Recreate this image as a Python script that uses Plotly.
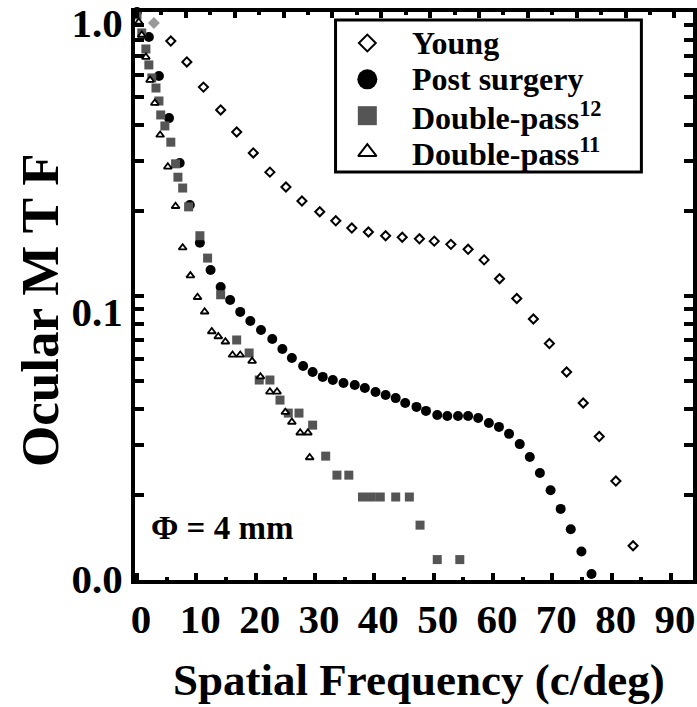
import plotly.graph_objects as go

FONT = "Liberation Serif"

# ---- data ----
young_x = [2.85, 5.7, 8.4, 11.2, 14.1, 16.8, 19.6, 22.4, 25.1, 27.8, 30.8, 33.5, 36.2, 39.0, 41.9,
           44.7, 47.6, 50.1, 52.9, 55.8, 58.5, 61.1, 64.0, 66.8, 69.5, 72.4, 75.2, 77.9, 80.7, 83.6]
young_y = [0.915, 0.790, 0.667, 0.544, 0.452, 0.378, 0.319, 0.273, 0.242, 0.216, 0.198, 0.184, 0.1735,
           0.168, 0.163, 0.161, 0.159, 0.156, 0.152, 0.146, 0.134, 0.115, 0.098, 0.083, 0.068, 0.054,
           0.042, 0.032, 0.0223, 0.0132]

post_x = [0.0, 2.0, 3.7, 5.4, 7.2, 8.9, 10.6, 12.4, 14.1, 15.7, 17.4, 19.1, 20.9, 22.8, 24.5, 26.1,
          28.0, 29.6, 31.3, 33.0, 34.8, 36.7, 38.4, 40.2, 41.9, 43.6, 45.2, 47.1, 48.7, 50.6, 52.3,
          54.1, 55.8, 57.5, 59.3, 61.0, 62.7, 64.5, 66.2, 67.9, 69.7, 71.4, 73.1, 74.9, 76.6]
post_y = [1.0, 0.817, 0.595, 0.423, 0.294, 0.209, 0.154, 0.1235, 0.1076, 0.0968, 0.0879, 0.0817,
          0.0759, 0.0706, 0.0651, 0.0605, 0.0567, 0.0540, 0.0519, 0.0506, 0.0494, 0.0486, 0.0474,
          0.0459, 0.0448, 0.0437, 0.0420, 0.0407, 0.0394, 0.0381, 0.0378, 0.0378, 0.0378, 0.0372,
          0.0357, 0.0346, 0.0327, 0.0301, 0.0271, 0.0238, 0.0207, 0.0178, 0.0151, 0.0126, 0.0105]

dp12_x = [0.0, 0.8, 1.5, 2.0, 2.5, 3.2, 3.7, 4.0, 4.7, 5.7, 6.5, 6.9, 7.7, 8.7, 10.6, 11.9, 14.1,
          16.8, 18.9, 20.6, 22.4, 24.1, 25.5, 27.3, 29.6, 31.8, 33.7, 35.7, 38.0, 39.5, 41.0, 43.6,
          45.9, 47.7, 50.6, 54.4]
dp12_y = [0.976, 0.844, 0.741, 0.651, 0.586, 0.540, 0.486, 0.434, 0.397, 0.348, 0.292, 0.262, 0.240,
          0.206, 0.163, 0.136, 0.101, 0.070, 0.063, 0.0506, 0.0506, 0.043, 0.0387, 0.0387, 0.0351,
          0.0273, 0.0234, 0.0234, 0.0196, 0.0196, 0.0196, 0.0196, 0.0196, 0.0156, 0.0118, 0.0118]

dp11_x = [0.3, 0.8, 1.5, 2.2, 3.0, 3.9, 5.2, 6.5, 7.7, 9.0, 10.2, 11.4, 12.6, 13.7, 14.9, 16.1,
          17.4, 19.4, 20.8, 22.4, 23.6, 25.0, 26.1, 27.5, 28.8, 29.1]
dp11_y = [0.922, 0.830, 0.694, 0.576, 0.478, 0.369, 0.285, 0.207, 0.148, 0.118, 0.099, 0.088,
          0.075, 0.072, 0.069, 0.062, 0.062, 0.059, 0.052, 0.046, 0.046, 0.039, 0.036, 0.033,
          0.033, 0.027]

series_names = ["Young", "Post surgery", "Double-pass<sup>12</sup>", "Double-pass<sup>11</sup>"]

x_tick_vals = [0, 10, 20, 30, 40, 50, 60, 70, 80, 90]
y_tick_text = ["0.0", "0.1", "1.0"]
y_tick_label_pos = [0.0101, 0.088, 0.915]
y_minor_vals = [0.01, 0.02, 0.03, 0.04, 0.05, 0.06, 0.07, 0.08, 0.09,
                0.1, 0.2, 0.3, 0.4, 0.5, 0.6, 0.7, 0.8, 0.9, 1.0]

# ---- figure ----
fig = go.Figure()

fig.add_trace(go.Scatter(x=young_x[:1], y=young_y[:1], mode="markers", showlegend=False,
                         cliponaxis=False,
                         marker=dict(symbol="diamond", size=7, color="#9a9a9a",
                                     line=dict(color="#9a9a9a", width=2))))
fig.add_trace(go.Scatter(x=young_x[1:], y=young_y[1:], mode="markers", showlegend=False,
                         cliponaxis=False,
                         marker=dict(symbol="diamond", size=7, color="white",
                                     line=dict(color="black", width=2))))
fig.add_trace(go.Scatter(x=post_x, y=post_y, mode="markers", showlegend=False, cliponaxis=False,
                         marker=dict(symbol="circle", size=10, color="black", line=dict(width=0))))
fig.add_trace(go.Scatter(x=dp12_x, y=dp12_y, mode="markers", showlegend=False, cliponaxis=False,
                         marker=dict(symbol="square", size=9, color="#555555", line=dict(width=0))))
fig.add_trace(go.Scatter(x=dp11_x, y=dp11_y, mode="markers", showlegend=False, cliponaxis=False,
                         marker=dict(symbol="triangle-up", size=7, color="white",
                                     line=dict(color="black", width=1.8))))

# helper trace so the top axis is drawn
fig.add_trace(go.Scatter(x=[None], y=[None], xaxis="x2", mode="markers", showlegend=False,
                         hoverinfo="skip"))

# ---- boxed key, drawn in its own small subplot (x3/y3), one row per series ----
legend_markers = [
    dict(symbol="diamond", size=13, color="white", line=dict(color="black", width=2)),
    dict(symbol="circle", size=20, color="black", line=dict(width=0)),
    dict(symbol="square", size=19, color="#555555", line=dict(width=0)),
    dict(symbol="triangle-up", size=16, color="white", line=dict(color="black", width=2)),
]
key_annotations = []
for i, (name, mk) in enumerate(zip(series_names, legend_markers)):
    fig.add_trace(go.Scatter(x=[0], y=[i], xaxis="x3", yaxis="y3", mode="markers",
                             showlegend=False, hoverinfo="skip", cliponaxis=False, marker=mk))
    key_annotations.append(dict(text=name, xref="x3", yref="y3", x=1.34, y=i,
                                xanchor="left", yanchor="middle", showarrow=False,
                                font=dict(family=FONT, size=32, color="black", weight="bold")))

tick_font = dict(family=FONT, size=41, color="black", weight="bold")
hidden = dict(visible=False, showgrid=False, zeroline=False, fixedrange=True)

fig.update_layout(
    width=697, height=707,
    margin=dict(l=135, r=0, t=12, b=127),
    paper_bgcolor="white", plot_bgcolor="white",
    showlegend=False,
    xaxis=dict(range=[-0.335, 93.7], showgrid=False, zeroline=False,
               showline=True, linecolor="black", linewidth=4, mirror=False,
               tickmode="array", tickvals=x_tick_vals,
               ticks="inside", ticklen=7, tickwidth=4, tickcolor="black",
               ticklabelshift=4,
               minor=dict(dtick=5, tick0=0, ticks="inside", ticklen=3, tickwidth=4,
                          tickcolor="black", showgrid=False),
               tickfont=tick_font),
    xaxis2=dict(overlaying="x", side="top", anchor="y", range=[-0.41, 113.8],
                showgrid=False, zeroline=False, showline=True, linecolor="black",
                linewidth=4, showticklabels=False,
                ticks="inside", ticklen=6, tickwidth=4, tickcolor="black", dtick=10, tick0=0,
                minor=dict(dtick=5, tick0=0, ticks="inside", ticklen=3, tickwidth=4,
                           tickcolor="black", showgrid=False)),
    yaxis=dict(type="log", range=[-2, 0], showgrid=False, zeroline=False,
               showline=True, linecolor="black", linewidth=4, mirror="ticks",
               tickmode="array", tickvals=y_tick_label_pos, ticktext=y_tick_text,
               ticks="inside", ticklen=0, tickwidth=4, tickcolor="black",
               minor=dict(tickmode="array", tickvals=y_minor_vals, ticks="inside",
                          ticklen=9, tickwidth=4, tickcolor="black", showgrid=False),
               tickfont=tick_font),
    xaxis3=dict(domain=[0.3594, 0.9075], anchor="y3", range=[-1, 8.625], **hidden),
    yaxis3=dict(domain=[0.7183, 0.9859], anchor="x3", range=[3.55, -0.633], **hidden),
    shapes=[dict(type="rect", xref="x3 domain", yref="y3 domain", x0=0, x1=1, y0=0, y1=1,
                 line=dict(color="black", width=3), fillcolor="rgba(0,0,0,0)", layer="above")],
    annotations=[
        dict(text="Ocular M T F", xref="paper", yref="paper", x=-0.169, y=0.475,
             xanchor="center", yanchor="middle", textangle=-90, showarrow=False,
             font=dict(family=FONT, size=53, color="black", weight="bold")),
        dict(text="Spatial Frequency (c/deg)", xref="paper", yref="paper", x=0.509, y=-0.176,
             xanchor="center", yanchor="middle", showarrow=False,
             font=dict(family=FONT, size=45, color="black", weight="bold")),
        dict(text="Φ = 4 mm", xref="paper", yref="paper", x=0.0249, y=0.0915,
             xanchor="left", yanchor="middle", showarrow=False,
             font=dict(family=FONT, size=33, color="black", weight="bold")),
    ] + key_annotations,
)

fig.write_html("out.html")
